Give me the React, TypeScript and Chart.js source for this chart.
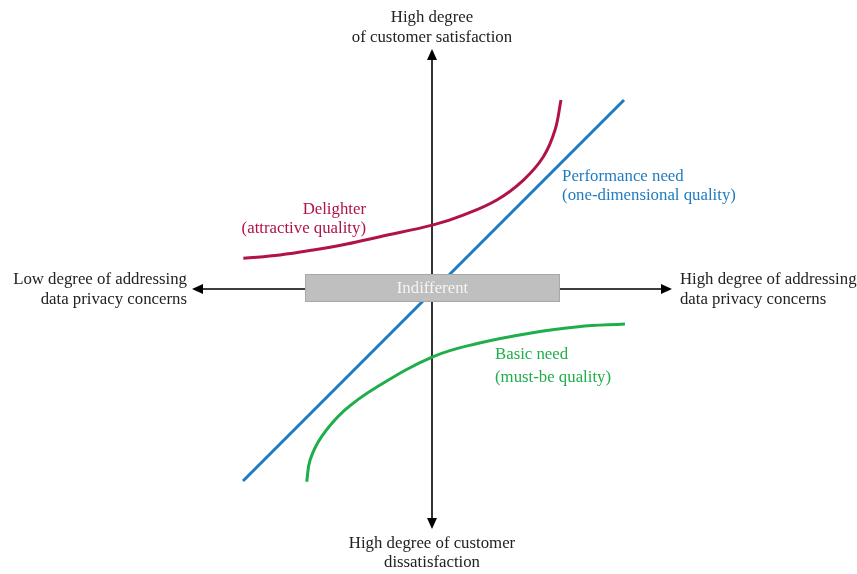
import React, { useEffect, useRef } from "react";
import { Chart, registerables } from "chart.js";

Chart.register(...registerables);

// Curve shapes in the diagram's own coordinate system (axes cross at 0,0; ends at ±1)
const performanceX = [-0.7875, 0.8];
const performanceY = [-0.8, 0.7875];

const delighterX = [-0.786, -0.633, -0.495, -0.355, -0.217, 0.005, 0.13, 0.27, 0.381, 0.464, 0.5125, 0.5375];
const delighterY = [0.128, 0.142, 0.1625, 0.1875, 0.218, 0.267, 0.308, 0.371, 0.454, 0.551, 0.6625, 0.7875];

const basicX = [-0.522, -0.508, -0.46, -0.3625, -0.228, 0.005, 0.193, 0.401, 0.61, 0.804];
const basicY = [-0.803, -0.7125, -0.615, -0.504, -0.407, -0.282, -0.226, -0.185, -0.157, -0.146];

const topLabel = ["High degree", "of customer satisfaction"];
const bottomLabel = ["High degree of customer", "dissatisfaction"];
const leftLabel = ["Low degree of addressing", "data privacy concerns"];
const rightLabel = ["High degree of addressing", "data privacy concerns"];
const delighterLabel = ["Delighter", "(attractive quality)"];
const performanceLabel = ["Performance need", "(one-dimensional quality)"];
const basicLabel = ["Basic need", "(must-be quality)"];
const indifferentLabel = "Indifferent";

const RED = "#b0124a";
const BLUE = "#1f7bbf";
const GREEN = "#1fae4b";
const FONT = "16.8px 'Liberation Serif', 'Times New Roman', serif";

const toPts = (xs: number[], ys: number[]) => xs.map((x, i) => ({ x, y: ys[i] }));

export default function App() {
  const ref = useRef<HTMLCanvasElement | null>(null);

  useEffect(() => {
    document.body.style.margin = "0";
    const canvas = ref.current;
    if (!canvas) return;

    const axesPlugin = {
      id: "kanoAxes",
      beforeDatasetsDraw(chart: any) {
        const { ctx, scales } = chart;
        const sx = scales.x, sy = scales.y;
        const cx = sx.getPixelForValue(0);
        const cy = sy.getPixelForValue(0);
        const l = sx.getPixelForValue(-1.0), r = sx.getPixelForValue(1.0);
        const t = sy.getPixelForValue(1.0), b = sy.getPixelForValue(-1.0);
        ctx.save();
        ctx.strokeStyle = "#000";
        ctx.fillStyle = "#000";
        ctx.lineWidth = 1.6;
        ctx.beginPath();
        ctx.moveTo(l + 6, cy); ctx.lineTo(r - 6, cy);
        ctx.moveTo(cx, t + 6); ctx.lineTo(cx, b - 6);
        ctx.stroke();
        const head = (x: number, y: number, dx: number, dy: number) => {
          const len = 11, w = 5;
          const px = -dy, py = dx;
          ctx.beginPath();
          ctx.moveTo(x, y);
          ctx.lineTo(x - dx * len + px * w, y - dy * len + py * w);
          ctx.lineTo(x - dx * len - px * w, y - dy * len - py * w);
          ctx.closePath();
          ctx.fill();
        };
        head(r, cy, 1, 0);
        head(l, cy, -1, 0);
        head(cx, t, 0, -1);
        head(cx, b, 0, 1);
        ctx.restore();
      },
      afterDatasetsDraw(chart: any) {
        const { ctx, scales } = chart;
        const sx = scales.x, sy = scales.y;
        const X = (v: number) => sx.getPixelForValue(v);
        const Y = (v: number) => sy.getPixelForValue(v);
        ctx.save();
        // Indifferent box
        const bx1 = X(-0.529), bx2 = X(0.533), by1 = Y(0.0625), by2 = Y(-0.054);
        ctx.fillStyle = "#bfbfbf";
        ctx.strokeStyle = "#a8a8a8";
        ctx.lineWidth = 1;
        ctx.fillRect(bx1, by1, bx2 - bx1, by2 - by1);
        ctx.strokeRect(bx1 + 0.5, by1 + 0.5, bx2 - bx1 - 1, by2 - by1 - 1);
        ctx.font = FONT;
        ctx.textBaseline = "middle";
        ctx.textAlign = "center";
        ctx.fillStyle = "#f4f4f4";
        ctx.fillText(indifferentLabel, (bx1 + bx2) / 2, (by1 + by2) / 2 + 1);

        const lines = (txt: string[], x: number, y: number, align: CanvasTextAlign, color: string, gap = 20) => {
          ctx.textAlign = align;
          ctx.fillStyle = color;
          txt.forEach((s, i) => ctx.fillText(s, x, y + i * gap));
        };
        lines(topLabel, X(0), Y(1.129), "center", "#222");
        lines(bottomLabel, X(0), Y(-1.0625), "center", "#222", 19);
        lines(leftLabel, X(-1.021), Y(0.0375), "right", "#222");
        lines(rightLabel, X(1.033), Y(0.0375), "left", "#222");
        lines(delighterLabel, X(-0.275), Y(0.329), "right", RED, 19);
        lines(performanceLabel, X(0.542), Y(0.467), "left", BLUE, 19);
        lines(basicLabel, X(0.2625), Y(-0.275), "left", GREEN, 23);
        ctx.restore();
      },
    };

    const ds = (data: any[], color: string) => ({
      data,
      showLine: true,
      borderColor: color,
      borderWidth: 3,
      pointRadius: 0,
      tension: 0.4,
      fill: false,
      clip: false as any,
    });

    const chart = new Chart(canvas, {
      type: "scatter",
      data: {
        datasets: [
          ds(toPts(performanceX, performanceY), BLUE),
          ds(toPts(delighterX, delighterY), RED),
          ds(toPts(basicX, basicY), GREEN),
        ],
      },
      options: {
        animation: false,
        responsive: false,
        layout: { padding: { left: 192, right: 185, top: 49, bottom: 45 } },
        scales: {
          x: { type: "linear", min: -1, max: 1, display: false },
          y: { type: "linear", min: -1, max: 1, display: false },
        },
        plugins: { legend: { display: false }, tooltip: { enabled: false } },
      },
      plugins: [axesPlugin],
    });
    return () => chart.destroy();
  }, []);

  return (
    <div style={{ width: 857, height: 574, background: "#fff" }}>
      <canvas ref={ref} width={857} height={574} style={{ display: "block" }} />
    </div>
  );
}
